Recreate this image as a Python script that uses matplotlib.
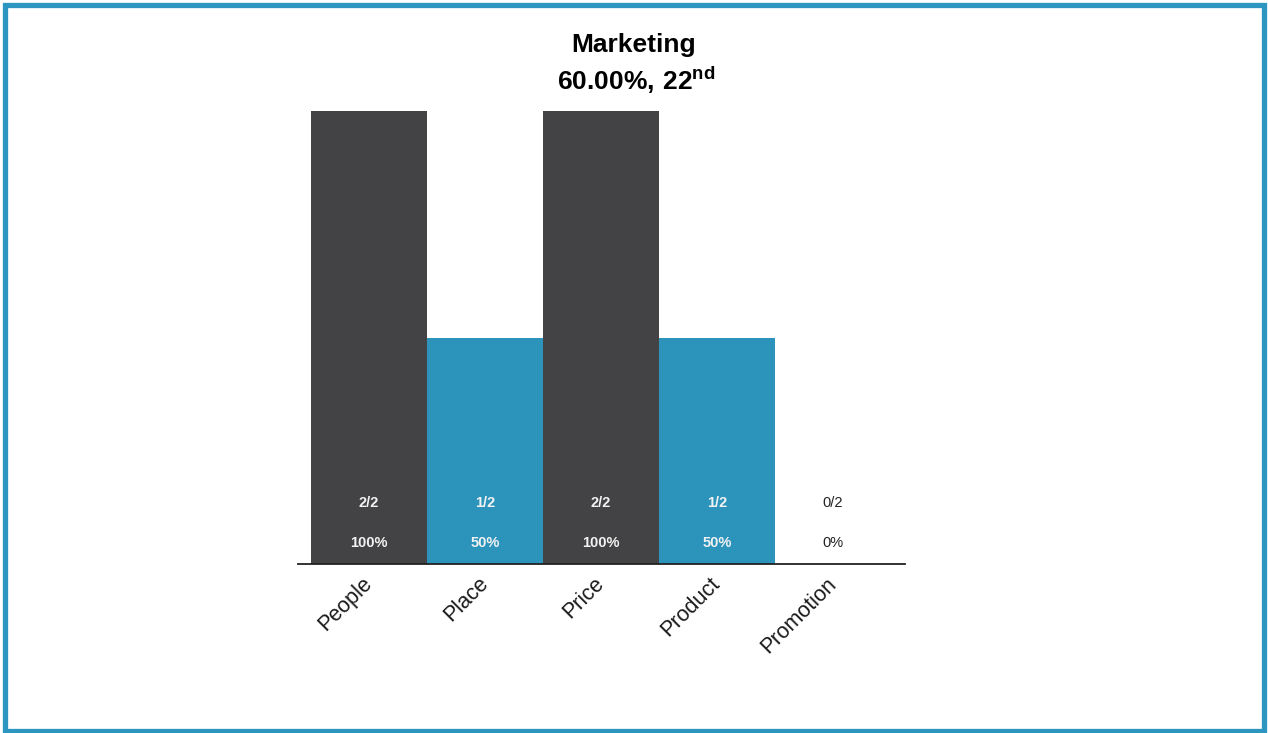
import matplotlib
matplotlib.use("Agg")
import matplotlib.pyplot as plt
from matplotlib.patches import Rectangle

categories = ["People", "Place", "Price", "Product", "Promotion"]
correct = [2, 1, 2, 1, 0]
totals = [2, 2, 2, 2, 2]
title_line1 = "Marketing"
score_text = "60.00%"
rank_num = "22"
rank_suffix = "nd"

DARK = "#434244"
BLUE = "#2c93bb"
BORDER = "#2d96c0"

plt.rcParams['font.family'] = ['Liberation Sans', 'DejaVu Sans']
plt.rcParams['mathtext.fontset'] = 'custom'
plt.rcParams['mathtext.rm'] = 'Liberation Sans'
plt.rcParams['mathtext.bf'] = 'Liberation Sans:bold'

W, H = 1268, 733
fig = plt.figure(figsize=(W / 100, H / 100), dpi=100)
fig.patch.set_facecolor("white")

ax = fig.add_axes([298 / W, 1 - 564 / H, (905 - 298) / W, (564 - 111) / H])
values = [c / t for c, t in zip(correct, totals)]
x = list(range(len(categories)))
colors = [DARK if i % 2 == 0 else BLUE for i in x]
ax.bar(x, values, width=1.0, color=colors, edgecolor="none")
ax.set_xlim(-0.612, 4.62)
ax.set_ylim(0, 1)

for s in ["top", "right", "left"]:
    ax.spines[s].set_visible(False)
ax.spines["bottom"].set_color("#222222")
ax.spines["bottom"].set_linewidth(1.3)
ax.set_yticks([])
ax.set_xticks(x)
ax.set_xticklabels(categories, rotation=45, ha="right", va="center",
                   rotation_mode="anchor", fontsize=15.5, color="#1a1a1a")
ax.tick_params(axis="x", length=0, pad=12)

trans = ax.get_xaxis_transform()
for i, (c, t, v) in enumerate(zip(correct, totals, values)):
    col = "#f2f2f2" if v > 0 else "#222222"
    wt = "bold" if v > 0 else "normal"
    ax.text(i, 0.135, f"{c}/{t}", transform=trans, ha="center", va="center",
            fontsize=10.5, color=col, fontweight=wt)
    ax.text(i, 0.046, f"{round(v * 100)}%", transform=trans, ha="center", va="center",
            fontsize=10.5, color=col, fontweight=wt)

fig.text(0.5, 1 - 45 / H, title_line1, ha="center", va="center",
         fontsize=19, fontweight="bold", color="black")
fig.text(0.502, 1 - 80 / H,
         r"$\mathbf{" + score_text.replace("%", r"\%") + r"{,}\ " + rank_num + r"^{" + rank_suffix + r"}}$",
         ha="center", va="center", fontsize=19, color="black")

fig.patches.append(Rectangle((4.5 / W, 2.5 / H), (1264 - 4.5) / W, (728.5 - 2.5) / H,
                             transform=fig.transFigure, fill=False,
                             edgecolor=BORDER, linewidth=3.8, zorder=10))

fig.savefig("out.png", dpi=100)
